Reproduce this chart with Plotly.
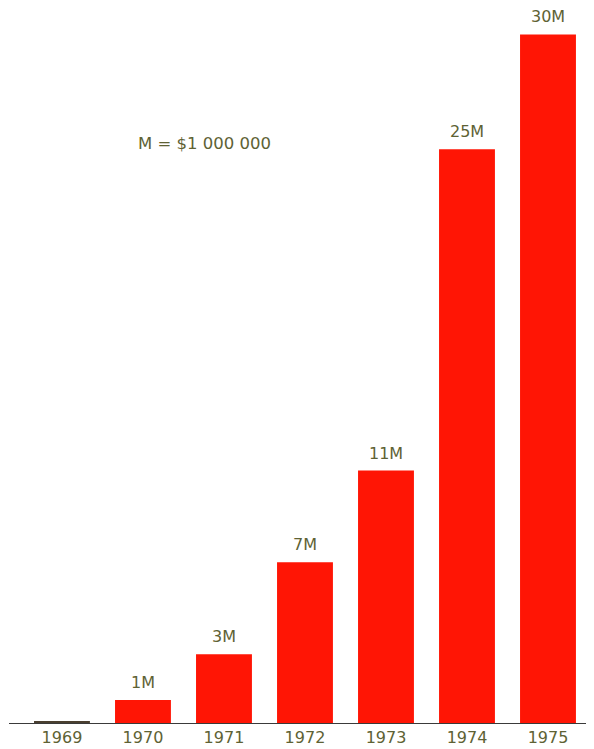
import plotly.graph_objects as go

years = ["1969", "1970", "1971", "1972", "1973", "1974", "1975"]
values = [0.09, 1, 3, 7, 11, 25, 30]
labels = ["", "1M", "3M", "7M", "11M", "25M", "30M"]
colors = ["#4a3f30", "#ff1505", "#ff1505", "#ff1505", "#ff1505", "#ff1505", "#ff1505"]
note = "M = $1 000 000"

text_color = "#5e6234"
FONT = "DejaVu Sans, sans-serif"

# page body has an 8px default margin; compensate so the picture matches
OFF = 8
W, H = 594 - OFF, 749 - OFF
ml, mr, mt, mb = 9 - OFF, 0, 0, 749 - 723
pw, ph = W - ml - mr, H - mt - mb

fig = go.Figure(go.Bar(
    x=years, y=values,
    marker=dict(color=colors, line=dict(width=0)),
    width=0.69, cliponaxis=False, hoverinfo="x+y",
))

for i, (v, lab) in enumerate(zip(values, labels)):
    if lab:
        fig.add_annotation(x=i, y=v, text=lab, showarrow=False, yanchor="bottom",
                           yshift=6, font=dict(family=FONT, size=16, color=text_color))

fig.add_annotation(text=note, xref="paper", yref="paper",
                   x=(205 - OFF - ml) / pw, y=1 - (132 - OFF - mt) / ph,
                   showarrow=False, font=dict(family=FONT, size=16.5, color=text_color))

fig.update_layout(
    width=W, height=H,
    margin=dict(l=ml, r=mr, t=mt, b=mb),
    plot_bgcolor="white", paper_bgcolor="white",
    showlegend=False,
    xaxis=dict(type="category", range=[-0.654, 6.568], showline=True, linecolor="#3a3a3a",
               linewidth=1, ticks="", showgrid=False, automargin=False,
               tickfont=dict(family=FONT, size=16, color=text_color)),
    yaxis=dict(range=[0, 31.15], visible=False, showgrid=False),
)

fig.write_html("out.html")
